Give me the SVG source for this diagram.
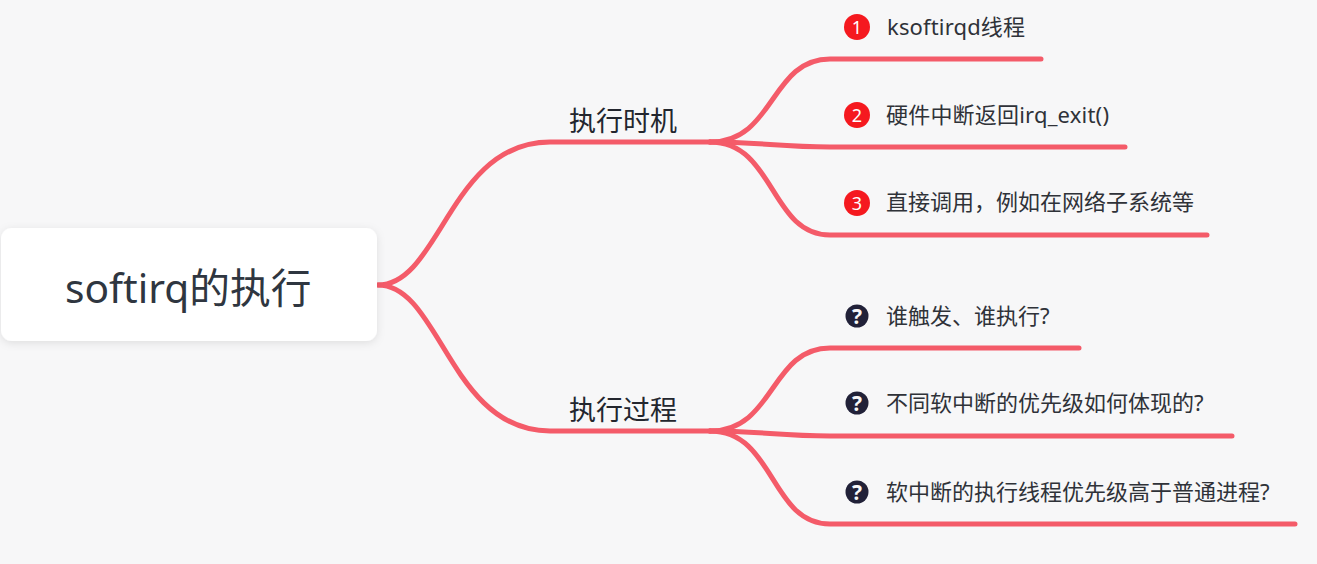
<svg xmlns="http://www.w3.org/2000/svg" width="1317" height="564" viewBox="0 0 1317 564">
<style>
text{font-family:"Noto Sans","Noto Sans CJK SC",sans-serif;fill:#2b2f36}
.root{font-size:40.7px;fill:#2f3640}
.b{font-size:27px;fill:#23262e}
.l{font-size:22px;fill:#2f3238}
.c{fill:none;stroke:#f45b69;stroke-width:5;stroke-linecap:round}
.n{font-size:18px;fill:#fff;text-anchor:middle}
.q{font-size:21px;font-weight:700;fill:#f7f7f8;text-anchor:middle}
</style>
<defs><filter id="s" x="-5%" y="-15%" width="110%" height="130%"><feDropShadow dx="0" dy="2" stdDeviation="4" flood-color="#000" flood-opacity=".1"/></filter></defs>
<rect width="1317" height="564" fill="#f7f7f8"/>
<g id="connectors">
<path class="c" d="M378 285C440 285 450 142 550 142H710"/>
<path class="c" d="M378 285C440 285 450 431 550 431H710"/>
<path class="c" d="M710 142C775 142 770 59 830 59H1041"/>
<path class="c" d="M710 142C760 142 780 147 830 147H1125"/>
<path class="c" d="M710 142C775 142 770 235 830 235H1207"/>
<path class="c" d="M710 431C775 431 770 348 830 348H1079"/>
<path class="c" d="M710 431C760 431 780 436 830 436H1232"/>
<path class="c" d="M710 431C775 431 770 524 830 524H1295"/>
</g>
<g id="root"><rect x="1" y="228" width="376" height="113" rx="11" fill="#fff" filter="url(#s)"/><text class="root" x="65" y="303">softirq的执行</text></g>
<g id="b1"><text class="b" x="569" y="131">执行时机</text></g>
<g id="b2"><text class="b" x="569" y="420">执行过程</text></g>
<g id="n1"><circle cx="857" cy="27" r="13" fill="#f5191f"/><text class="n" x="857" y="33.500">1</text><text class="l" x="887" y="35" textLength="138">ksoftirqd线程</text></g>
<g id="n2"><circle cx="857" cy="115" r="13" fill="#f5191f"/><text class="n" x="857" y="121.500">2</text><text class="l" x="886" y="123" textLength="223">硬件中断返回irq_exit()</text></g>
<g id="n3"><circle cx="857" cy="203" r="13" fill="#f5191f"/><text class="n" x="857" y="209.500">3</text><text class="l" x="886" y="210">直接调用，例如在网络子系统等</text></g>
<g id="n4"><circle cx="857" cy="316" r="11.500" fill="#212138"/><text class="q" x="857" y="323.500">?</text><text class="l" x="886" y="324">谁触发、谁执行?</text></g>
<g id="n5"><circle cx="857" cy="403" r="11.500" fill="#212138"/><text class="q" x="857" y="410.500">?</text><text class="l" x="886" y="411">不同软中断的优先级如何体现的?</text></g>
<g id="n6"><circle cx="857" cy="492" r="11.500" fill="#212138"/><text class="q" x="857" y="499.500">?</text><text class="l" x="886" y="500">软中断的执行线程优先级高于普通进程?</text></g>
</svg>
